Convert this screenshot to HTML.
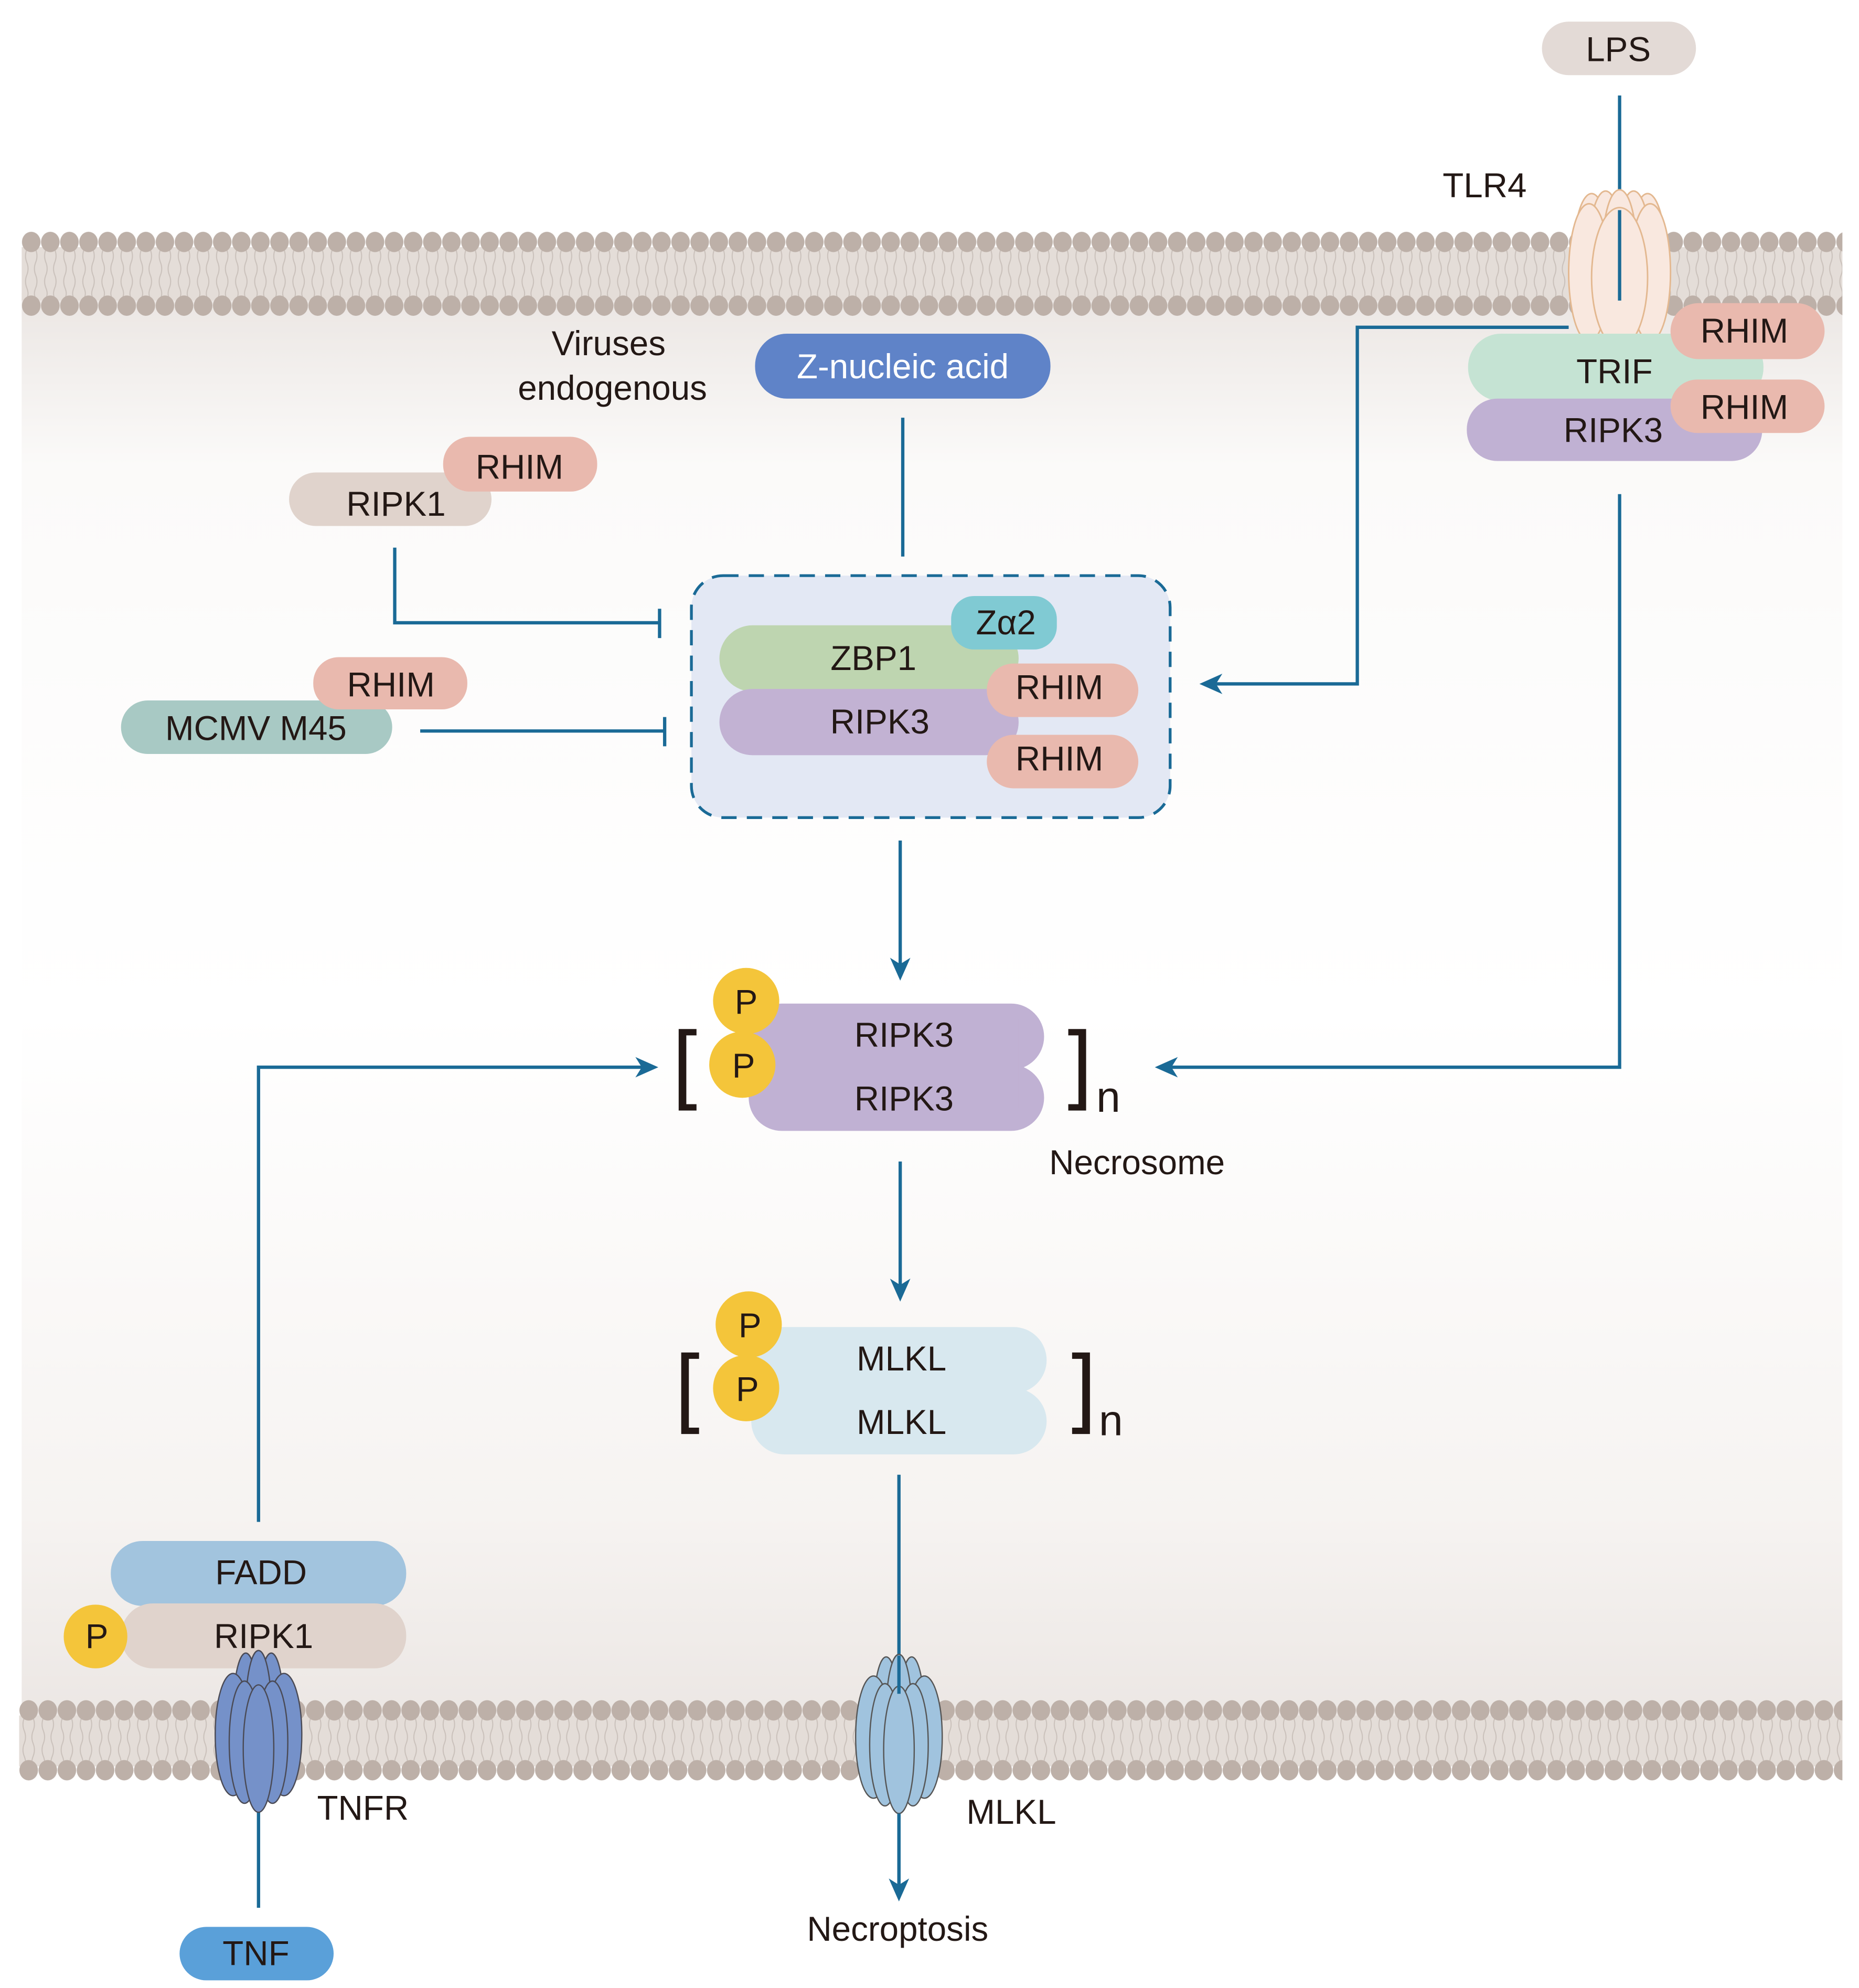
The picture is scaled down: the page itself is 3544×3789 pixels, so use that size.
<!DOCTYPE html>
<html><head><meta charset="utf-8"><style>html,body{margin:0;padding:0;background:#fff}svg{display:block}text{font-family:"Liberation Sans",sans-serif;fill:#231815}</style></head>
<body>
<svg xmlns="http://www.w3.org/2000/svg" width="3544" height="3789" viewBox="0 0 1460 1561">
<defs>
<linearGradient id="bg" x1="0" y1="0" x2="0" y2="1">
<stop offset="0" stop-color="#ebe6e3"/><stop offset="0.12" stop-color="#fbfaf9"/><stop offset="0.5" stop-color="#ffffff"/><stop offset="0.85" stop-color="#f6f3f1"/><stop offset="1" stop-color="#ebe6e3"/>
</linearGradient>
<pattern id="memT" patternUnits="userSpaceOnUse" x="17" y="182" width="15" height="66">
<rect x="0" y="12" width="15" height="42" fill="#e4ddd8"/>
<path d="M4,14 q-2,5 0,10 q2,5 0,10 q-2,5 0,10 q2,5 0,8 M11,14 q2,5 0,10 q-2,5 0,10 q2,5 0,10 q-2,5 0,8" stroke="#c9c0ba" stroke-width="0.8" fill="none"/>
<ellipse cx="7.5" cy="8" rx="7.3" ry="8" fill="#bdb0a8"/>
<ellipse cx="7.5" cy="58" rx="7.3" ry="8" fill="#bdb0a8"/>
</pattern>
<pattern id="memB" patternUnits="userSpaceOnUse" x="15" y="1335" width="15" height="63">
<rect x="0" y="12" width="15" height="40" fill="#e4ddd8"/>
<path d="M4,14 q-2,5 0,10 q2,5 0,10 q-2,5 0,10 q2,5 0,8 M11,14 q2,5 0,10 q-2,5 0,10 q2,5 0,10 q-2,5 0,8" stroke="#c9c0ba" stroke-width="0.8" fill="none"/>
<ellipse cx="7.5" cy="8" rx="7.3" ry="8" fill="#bdb0a8"/>
<ellipse cx="7.5" cy="55" rx="7.3" ry="8" fill="#bdb0a8"/>
</pattern>
</defs>
<rect width="1460" height="1561" fill="#fff"/>
<rect x="17" y="230" width="1430" height="1130" fill="url(#bg)"/>
<rect x="17" y="182" width="1430" height="66" fill="url(#memT)"/>
<rect x="15" y="1335" width="1432" height="63" fill="url(#memB)"/>

<g stroke="#1a6a96" stroke-width="2.6" fill="none">
<line x1="1272" y1="75" x2="1272" y2="165"/>
<polyline points="1232,257 1066,257 1066,537 955,537"/>
<polyline points="1272,388 1272,838 920,838"/>
<line x1="709" y1="328" x2="709" y2="437"/>
<polyline points="310,430 310,489 518,489"/>
<line x1="518" y1="478" x2="518" y2="501"/>
<line x1="330" y1="574" x2="522" y2="574"/>
<line x1="522" y1="563" x2="522" y2="586"/>
<line x1="707" y1="660" x2="707" y2="758"/>
<line x1="707" y1="912" x2="707" y2="1010"/>
<line x1="706" y1="1158" x2="706" y2="1480"/>
<polyline points="203,1195 203,838 505,838"/>
<line x1="203" y1="1420" x2="203" y2="1498"/>
</g>
<g fill="#1a6a96">
<polygon points="942,537 960,529 955,537 960,545"/>
<polygon points="907,838 925,830 920,838 925,846"/>
<polygon points="517,838 499,830 504,838 499,846"/>
<polygon points="707,770 699,752 707,757 715,752"/>
<polygon points="707,1022 699,1004 707,1009 715,1004"/>
<polygon points="706,1493 698,1475 706,1480 714,1475"/>
</g>

<!-- LPS / TLR4 -->
<rect x="1211" y="17" width="121" height="42" rx="21" fill="#e3dad6"/>
<text x="1271" y="48" font-size="27" text-anchor="middle">LPS</text>
<text x="1133" y="155" font-size="27">TLR4</text>
<g fill="#f9e8df" stroke="#e3b890" stroke-width="1.2">
<ellipse cx="1250" cy="200" rx="14" ry="48"/><ellipse cx="1294" cy="200" rx="14" ry="48"/>
<ellipse cx="1261" cy="196" rx="13" ry="46"/><ellipse cx="1283" cy="196" rx="13" ry="46"/>
<ellipse cx="1272" cy="193" rx="13" ry="44"/>
<ellipse cx="1248" cy="214" rx="16" ry="54"/><ellipse cx="1296" cy="214" rx="16" ry="54"/>
<ellipse cx="1272" cy="218" rx="22" ry="55"/>
</g>
<line x1="1272" y1="165" x2="1272" y2="236" stroke="#1a6a96" stroke-width="2.6"/>
<rect x="1153" y="262" width="232" height="53" rx="26" fill="#c5e3d3"/>
<rect x="1152" y="313" width="232" height="49" rx="24" fill="#c0b1d3"/>
<rect x="1312" y="238" width="121" height="44" rx="22" fill="#e9b9ae"/>
<rect x="1312" y="298" width="121" height="42" rx="21" fill="#e9b9ae"/>
<text x="1268" y="301" font-size="27" text-anchor="middle">TRIF</text>
<text x="1267" y="347" font-size="27" text-anchor="middle">RIPK3</text>
<text x="1370" y="269" font-size="27" text-anchor="middle">RHIM</text>
<text x="1370" y="329" font-size="27" text-anchor="middle">RHIM</text>

<!-- Viruses -->
<text x="478" y="279" font-size="27" text-anchor="middle">Viruses</text>
<text x="481" y="314" font-size="27" text-anchor="middle">endogenous</text>
<rect x="593" y="262" width="232" height="51" rx="25" fill="#5f83c8"/>
<text x="709" y="297" font-size="27" text-anchor="middle" style="fill:#fff">Z-nucleic acid</text>

<rect x="227" y="371" width="159" height="42" rx="21" fill="#e0d3cc"/>
<rect x="348" y="343" width="121" height="43" rx="21" fill="#e9b9ae"/>
<text x="311" y="405" font-size="27" text-anchor="middle">RIPK1</text>
<text x="408" y="376" font-size="27" text-anchor="middle">RHIM</text>

<rect x="95" y="550" width="213" height="42" rx="21" fill="#a8c9c4"/>
<rect x="246" y="516" width="121" height="41" rx="20" fill="#e9b9ae"/>
<text x="201" y="581" font-size="27" text-anchor="middle">MCMV M45</text>
<text x="307" y="547" font-size="27" text-anchor="middle">RHIM</text>

<!-- dashed box -->
<rect x="543" y="452" width="376" height="190" rx="25" fill="#e3e8f4" stroke="#1a6a96" stroke-width="2.2" stroke-dasharray="12,8"/>
<rect x="565" y="491" width="235" height="52" rx="26" fill="#bed5b0"/>
<rect x="565" y="541" width="235" height="52" rx="26" fill="#c2b2d3"/>
<rect x="747" y="468" width="83" height="42" rx="18" fill="#80cad3"/>
<rect x="775" y="521" width="119" height="42" rx="21" fill="#e9b9ae"/>
<rect x="775" y="577" width="119" height="42" rx="21" fill="#e9b9ae"/>
<text x="790" y="498" font-size="27" text-anchor="middle">Zα2</text>
<text x="686" y="526" font-size="27" text-anchor="middle">ZBP1</text>
<text x="691" y="576" font-size="27" text-anchor="middle">RIPK3</text>
<text x="832" y="549" font-size="27" text-anchor="middle">RHIM</text>
<text x="832" y="605" font-size="27" text-anchor="middle">RHIM</text>

<!-- Necrosome -->
<g fill="#231815">
<path d="M533,808 h14 v5 h-8 v54 h8 v5 h-14 z"/>
<path d="M853,808 h-14 v5 h8 v54 h-8 v5 h14 z"/>
<path d="M535,1062 h14 v5 h-8 v54 h8 v5 h-14 z"/>
<path d="M856,1062 h-14 v5 h8 v54 h-8 v5 h14 z"/>
</g>
<rect x="588" y="788" width="232" height="52" rx="26" fill="#c0b1d3"/>
<rect x="588" y="836" width="232" height="52" rx="26" fill="#c0b1d3"/>
<rect x="600" y="800" width="200" height="70" fill="#c0b1d3"/>
<circle cx="586" cy="786" r="26" fill="#f4c53a"/>
<circle cx="583" cy="836" r="26" fill="#f4c53a"/>
<text x="586" y="796" font-size="27" text-anchor="middle">P</text>
<text x="584" y="846" font-size="27" text-anchor="middle">P</text>
<text x="710" y="822" font-size="27" text-anchor="middle">RIPK3</text>
<text x="710" y="872" font-size="27" text-anchor="middle">RIPK3</text>
<text x="861" y="873" font-size="34">n</text>
<text x="893" y="922" font-size="27" text-anchor="middle">Necrosome</text>

<!-- MLKL -->
<rect x="590" y="1042" width="232" height="52" rx="26" fill="#d8e8ef"/>
<rect x="590" y="1090" width="232" height="52" rx="26" fill="#d8e8ef"/>
<rect x="605" y="1055" width="200" height="70" fill="#d8e8ef"/>
<circle cx="588" cy="1040" r="26" fill="#f4c53a"/>
<circle cx="586" cy="1090" r="26" fill="#f4c53a"/>
<text x="589" y="1050" font-size="27" text-anchor="middle">P</text>
<text x="587" y="1100" font-size="27" text-anchor="middle">P</text>
<text x="708" y="1076" font-size="27" text-anchor="middle">MLKL</text>
<text x="708" y="1126" font-size="27" text-anchor="middle">MLKL</text>
<text x="863" y="1127" font-size="34">n</text>

<!-- FADD/RIPK1 -->
<rect x="87" y="1210" width="232" height="51" rx="25" fill="#a2c4de"/>
<rect x="95" y="1259" width="224" height="51" rx="25" fill="#e0d3cc"/>
<circle cx="75" cy="1285" r="25" fill="#f4c53a"/>
<text x="76" y="1294" font-size="27" text-anchor="middle">P</text>
<text x="205" y="1244" font-size="27" text-anchor="middle">FADD</text>
<text x="207" y="1294" font-size="27" text-anchor="middle">RIPK1</text>

<!-- TNFR -->
<g fill="#7591c9" stroke="#4a4a55" stroke-width="1">
<ellipse cx="193" cy="1345" rx="10" ry="47"/><ellipse cx="213" cy="1345" rx="10" ry="47"/>
<ellipse cx="203" cy="1342" rx="10" ry="46"/>
<ellipse cx="183" cy="1362" rx="14" ry="48"/><ellipse cx="223" cy="1362" rx="14" ry="48"/>
<ellipse cx="192" cy="1368" rx="12" ry="48"/><ellipse cx="214" cy="1368" rx="12" ry="48"/>
<ellipse cx="203" cy="1373" rx="12" ry="50"/>
</g>
<text x="249" y="1429" font-size="27">TNFR</text>
<rect x="141" y="1513" width="121" height="42" rx="21" fill="#5aa0d9"/>
<text x="201" y="1543" font-size="27" text-anchor="middle">TNF</text>

<!-- MLKL channel -->
<g fill="#a0c3de" stroke="#555" stroke-width="1">
<ellipse cx="696" cy="1347" rx="10" ry="46"/><ellipse cx="716" cy="1347" rx="10" ry="46"/>
<ellipse cx="706" cy="1344" rx="10" ry="45"/>
<ellipse cx="686" cy="1364" rx="14" ry="48"/><ellipse cx="726" cy="1364" rx="14" ry="48"/>
<ellipse cx="695" cy="1370" rx="12" ry="48"/><ellipse cx="717" cy="1370" rx="12" ry="48"/>
<ellipse cx="706" cy="1374" rx="12" ry="50"/>
</g>
<line x1="706" y1="1300" x2="706" y2="1330" stroke="#1a6a96" stroke-width="2.6"/>
<line x1="706" y1="1424" x2="706" y2="1480" stroke="#1a6a96" stroke-width="2.6"/>
<text x="759" y="1432" font-size="27">MLKL</text>
<text x="705" y="1524" font-size="27" text-anchor="middle">Necroptosis</text>
</svg>
</body></html>
